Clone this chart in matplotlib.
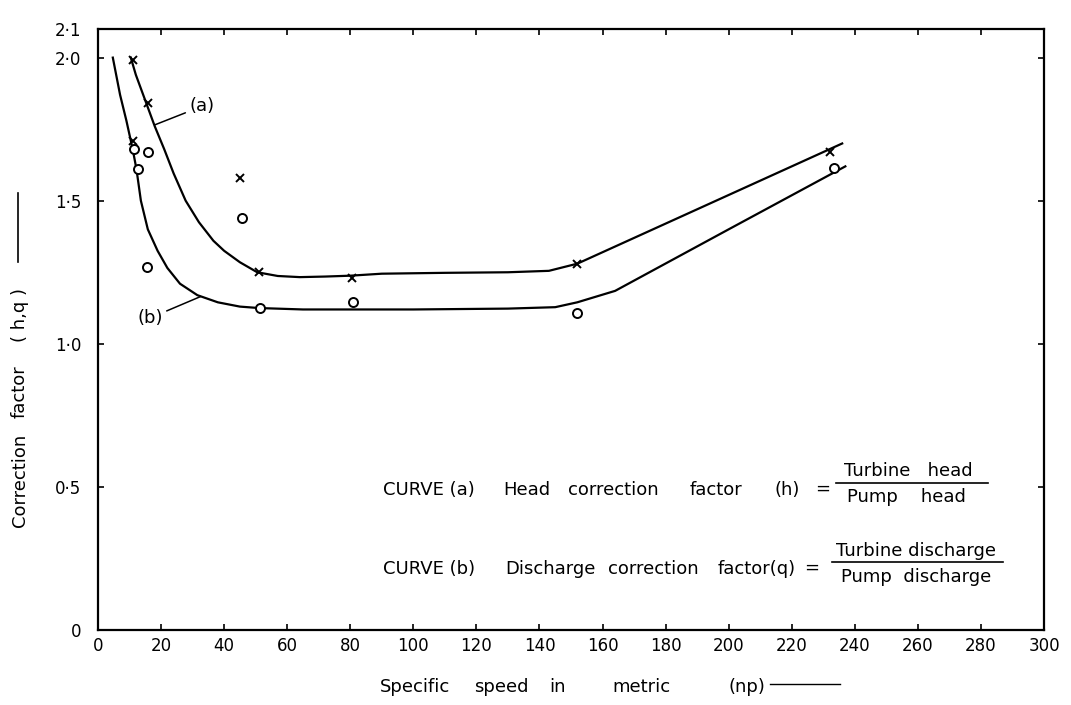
#!/usr/bin/env python

import matplotlib
matplotlib.use('Agg')
import matplotlib.pyplot as plt
from matplotlib.lines import Line2D

# curve (a): head correction factor
curve_a_x = [10.4, 12, 15, 18, 21, 24, 27.8, 32, 36.6, 40, 45, 50.5, 57, 64, 72, 80, 90, 110, 130, 143, 152, 158, 164, 190, 210, 236]
curve_a_y = [2.00, 1.94, 1.85, 1.76, 1.68, 1.595, 1.50, 1.425, 1.36, 1.325, 1.285, 1.25, 1.237, 1.233, 1.235, 1.238, 1.245, 1.248, 1.25, 1.255, 1.28, 1.31, 1.34, 1.47, 1.57, 1.70]

# curve (b): discharge correction factor
curve_b_x = [4.7, 7, 9, 11, 12.2, 13.6, 15.8, 18.9, 22, 26, 31.5, 38, 45, 51, 65, 80, 100, 130, 145, 152, 158, 164, 200, 237]
curve_b_y = [2.00, 1.87, 1.78, 1.68, 1.61, 1.50, 1.40, 1.325, 1.265, 1.21, 1.17, 1.145, 1.13, 1.125, 1.12, 1.12, 1.12, 1.123, 1.128, 1.145, 1.165, 1.185, 1.40, 1.62]

# measured points
head_x = [11, 16, 11, 45, 51, 80.4, 152, 232]
head_y = [1.99, 1.84, 1.71, 1.58, 1.25, 1.23, 1.28, 1.67]
dis_x = [11.4, 16, 12.6, 15.5, 45.7, 51.4, 80.8, 152, 233.4]
dis_y = [1.68, 1.67, 1.61, 1.27, 1.44, 1.125, 1.146, 1.108, 1.615]

xticks = list(range(0, 301, 20))
yticks = [0, 0.5, 1.0, 1.5, 2.0, 2.1]
ytick_labels = ['0', '0·5', '1·0', '1·5', '2·0', '2·1']

W, H = 1071, 705


def fx(px):
    return px / W


def fy(py):
    return 1 - py / H


def Words(fig, words, xs, y, fs, **kw):
    # the scan has wide, uneven gaps between words, so place each one
    for w, x in zip(words, xs):
        fig.text(fx(x), fy(y), w, fontsize=fs, ha='left', va='center', **kw)


def Plot(fs=12):
    fig = plt.figure(figsize=(W / 100, H / 100), dpi=100)
    ax = fig.add_axes([fx(98), fy(630), fx(1044) - fx(98), fy(29) - fy(630)])

    ax.plot(curve_a_x, curve_a_y, color='black', lw=1.6)
    ax.plot(curve_b_x, curve_b_y, color='black', lw=1.6)
    ax.plot(head_x, head_y, 'x', color='black', ms=6, mew=1.4)
    ax.plot(dis_x, dis_y, 'o', mfc='white', mec='black', ms=6.5, mew=1.4)

    ax.set_xlim(0, 300)
    ax.set_ylim(0, 2.1)
    ax.set_xticks(xticks)
    ax.set_xticklabels([str(t) for t in xticks], fontsize=fs)
    ax.set_yticks(yticks)
    ax.set_yticklabels(ytick_labels, fontsize=fs)
    ax.tick_params(axis='both', direction='in', length=4, width=1.2,
                   top=True, right=True)
    ax.tick_params(axis='x', pad=5)
    ax.tick_params(axis='y', pad=12)
    for s in ax.spines.values():
        s.set_linewidth(1.6)

    ax.annotate('(a)', xy=(18, 1.765), xytext=(29, 1.83), fontsize=fs + 1,
                ha='left', va='center',
                arrowprops=dict(arrowstyle='-', color='black', lw=1.1, shrinkA=1, shrinkB=0))
    ax.annotate('(b)', xy=(32.5, 1.165), xytext=(20.5, 1.09), fontsize=fs + 1,
                ha='right', va='center',
                arrowprops=dict(arrowstyle='-', color='black', lw=1.1, shrinkA=1, shrinkB=0))

    tfs = 13
    # x axis title with arrow
    Words(fig, ['Specific', 'speed', 'in', 'metric', '(np)'],
          [380, 474, 549, 612, 729], 687, tfs)
    fig.add_artist(Line2D([fx(770), fx(840)], [fy(684), fy(684)], color='black', lw=1.0))

    # y axis title with arrow
    for w, yb in zip(['Correction', 'factor', '( h,q )'], [527, 418, 342]):
        fig.text(fx(20), fy(yb), w, fontsize=tfs, rotation=90, ha='center', va='bottom')
    fig.add_artist(Line2D([fx(18), fx(18)], [fy(262), fy(193)], color='black', lw=1.2))

    # curve descriptions
    Words(fig, ['CURVE (a)', 'Head', 'correction', 'factor', '(h)'],
          [383, 503, 568, 690, 775], 490, tfs)
    fig.text(fx(823), fy(489), '=', fontsize=tfs, ha='center', va='center')
    fig.text(fx(908), fy(471), 'Turbine   head', fontsize=tfs, ha='center', va='center')
    fig.add_artist(Line2D([fx(836), fx(988)], [fy(483), fy(483)], color='black', lw=1.2))
    fig.text(fx(906), fy(497), 'Pump    head', fontsize=tfs, ha='center', va='center')

    Words(fig, ['CURVE (b)', 'Discharge', 'correction', 'factor(q)'],
          [383, 505, 608, 718], 569, tfs)
    fig.text(fx(812), fy(568), '=', fontsize=tfs, ha='center', va='center')
    fig.text(fx(916), fy(551), 'Turbine discharge', fontsize=tfs, ha='center', va='center')
    fig.add_artist(Line2D([fx(832), fx(1003)], [fy(562), fy(562)], color='black', lw=1.2))
    fig.text(fx(916), fy(577), 'Pump  discharge', fontsize=tfs, ha='center', va='center')

    fig.savefig('out.png', dpi=100)
    plt.close(fig)


if __name__ == "__main__":
    matplotlib.rcParams['axes.unicode_minus'] = False
    matplotlib.rcParams['font.family'] = ['DejaVu Sans']
    Plot()
